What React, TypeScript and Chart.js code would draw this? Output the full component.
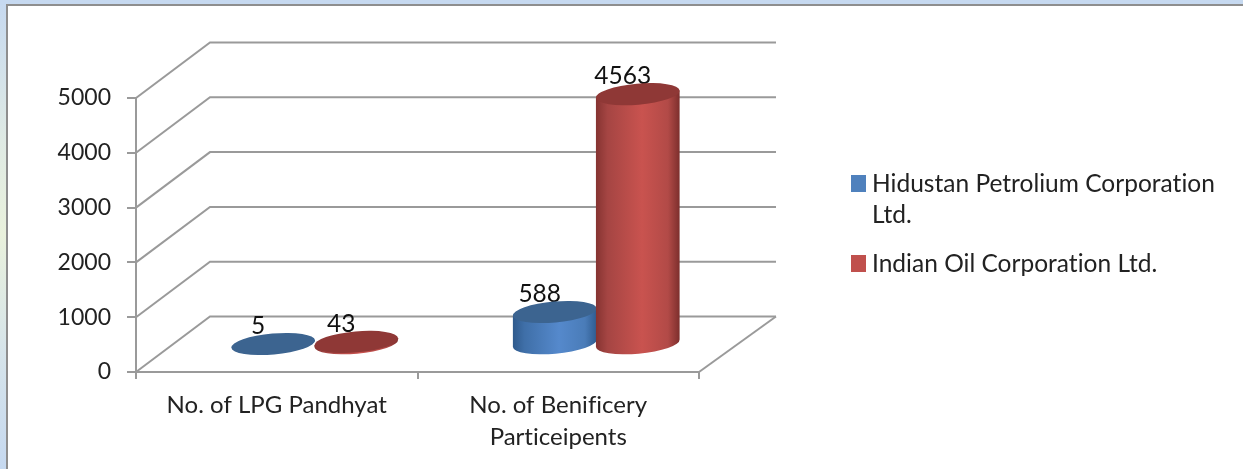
import React, { useEffect, useRef } from "react";
import { Chart, registerables } from "chart.js";

Chart.register(...registerables);

const categories: (string | string[])[] = ["No. of LPG Pandhyat", ["No. of Benificery", "Particeipents"]];
const hpclValues = [5, 588];
const iocValues = [43, 4563];
const hpclLabel = ["Hidustan Petrolium Corporation", "Ltd."];
const iocLabel = ["Indian Oil Corporation Ltd."];
const yTickStep = 1000;
const yMax = 5000;

const FONT = "Lato";
const TEXT = "#222222";
const AXIS = "#9a9a9a";
const DEPTH_X = 74;
const DEPTH_Y = 55.5;
const TILT = -0.088;
const RY = 10.5;

type Shade = { edgeL: string; dark: string; mid: string; soft: string; edgeR: string; top: string };
const shades: Shade[] = [
  { edgeL: "#2f5a8c", dark: "#3f6fa8", mid: "#5589cc", soft: "#4a7cb8", edgeR: "#2f5c90", top: "#3c6490" },
  { edgeL: "#853331", dark: "#a54543", mid: "#c9534f", soft: "#b24a47", edgeR: "#7c2e2c", top: "#8f3836" },
];

function drawCylinder(ctx: CanvasRenderingContext2D, cx: number, topY: number, baseY: number, rx: number, s: Shade) {
  const dx = rx * Math.cos(TILT);
  const dy = rx * Math.sin(TILT);
  const grad = ctx.createLinearGradient(cx - rx, 0, cx + rx, 0);
  grad.addColorStop(0, s.edgeL);
  grad.addColorStop(0.14, s.dark);
  grad.addColorStop(0.55, s.mid);
  grad.addColorStop(0.86, s.soft);
  grad.addColorStop(1, s.edgeR);
  ctx.beginPath();
  ctx.moveTo(cx + dx, topY + dy);
  ctx.lineTo(cx + dx, baseY + dy);
  ctx.ellipse(cx, baseY, rx, RY, TILT, 0, Math.PI);
  ctx.lineTo(cx - dx, topY - dy);
  ctx.closePath();
  ctx.fillStyle = grad;
  ctx.fill();
  ctx.beginPath();
  ctx.ellipse(cx, topY, rx, RY, TILT, 0, Math.PI * 2);
  ctx.fillStyle = s.top;
  ctx.fill();
}

const scene3d = {
  id: "scene3d",
  beforeDraw(chart: any) {
    const { ctx, width, height } = chart;
    (ctx as any).letterSpacing = "0.01px";
    ctx.save();
    const side = ctx.createLinearGradient(0, 0, 0, height);
    side.addColorStop(0, "#c6d9f0");
    side.addColorStop(0.3, "#dfeae4");
    side.addColorStop(0.5, "#e9f1dc");
    side.addColorStop(0.75, "#d6e4ea");
    side.addColorStop(1, "#c6d9f0");
    ctx.fillStyle = side;
    ctx.fillRect(0, 0, width, height);
    ctx.fillStyle = "#c6d9f0";
    ctx.fillRect(0, 0, width, 5);
    ctx.fillStyle = "#8e8e8e";
    ctx.fillRect(6, 4, width - 6, height - 4);
    ctx.fillStyle = "#ffffff";
    ctx.fillRect(8, 6, width - 8, height - 6);
    ctx.restore();
  },
  beforeDatasetsDraw(chart: any) {
    const { ctx, chartArea } = chart;
    const y = chart.scales.y;
    ctx.save();
    ctx.strokeStyle = AXIS;
    ctx.lineWidth = 2;
    y.ticks.forEach((t: any) => {
      const py = y.getPixelForValue(t.value);
      ctx.beginPath();
      ctx.moveTo(chartArea.left, py);
      ctx.lineTo(chartArea.left + DEPTH_X, py - DEPTH_Y);
      ctx.lineTo(chartArea.right + DEPTH_X + 3, py - DEPTH_Y);
      ctx.stroke();
    });
    const y0 = y.getPixelForValue(0);
    ctx.beginPath();
    ctx.moveTo(chartArea.right, y0);
    ctx.lineTo(chartArea.right + DEPTH_X + 3, y0 - DEPTH_Y);
    ctx.stroke();
    ctx.restore();
  },
  beforeDatasetDraw() {
    return false;
  },
  afterDatasetsDraw(chart: any) {
    const { ctx } = chart;
    const metas = chart.data.datasets.map((_: any, i: number) => chart.getDatasetMeta(i));
    ctx.save();
    ctx.font = `24.5px ${FONT}`;
    ctx.fillStyle = "#111111";
    ctx.textAlign = "center";
    ctx.textBaseline = "middle";
    metas.forEach((m: any, i: number) => {
      m.data.forEach((bar: any, j: number) => {
        const v = chart.data.datasets[i].data[j];
        ctx.fillText(String(v), bar.x + DEPTH_X / 2 - 14, bar.y - DEPTH_Y / 2 - 18);
      });
    });
    metas.forEach((m: any, i: number) => {
      m.data.forEach((bar: any) => {
        const cx = bar.x + DEPTH_X / 2 + 1;
        drawCylinder(ctx, cx, bar.y - DEPTH_Y / 2, bar.base - DEPTH_Y / 2, 42, shades[i]);
      });
    });
    ctx.restore();
  },
  afterDraw(chart: any) {
    const { ctx } = chart;
    ctx.save();
    ctx.font = `24.5px ${FONT}`;
    ctx.textAlign = "left";
    ctx.textBaseline = "middle";
    let cy = 184;
    chart.data.datasets.forEach((d: any) => {
      const lines: string[] = d.legendLines;
      ctx.fillStyle = d.backgroundColor;
      ctx.fillRect(851, cy - 9, 15, 17);
      ctx.fillStyle = TEXT;
      lines.forEach((line, k) => ctx.fillText(line, 872, cy + k * 31));
      cy += 31 * lines.length + 18;
    });
    ctx.restore();
  },
};

export default function App() {
  const ref = useRef<HTMLCanvasElement>(null);
  useEffect(() => {
    const chart = new Chart(ref.current!, {
      type: "bar",
      data: {
        labels: categories as any,
        datasets: [
          { label: hpclLabel.join(" "), legendLines: hpclLabel, data: hpclValues, backgroundColor: "#4f81bd" } as any,
          { label: iocLabel.join(" "), legendLines: iocLabel, data: iocValues, backgroundColor: "#c0504d" } as any,
        ],
      },
      options: {
        responsive: false,
        animation: false,
        layout: { padding: { top: 98, right: 544, bottom: 0, left: 0 } },
        plugins: { legend: { display: false }, title: { display: false }, tooltip: { enabled: false } },
        datasets: { bar: { categoryPercentage: 0.59, barPercentage: 1 } },
        scales: {
          x: {
            afterFit: (s: any) => { s.height = 97; },
            grid: { drawOnChartArea: false, tickLength: 7, color: AXIS, lineWidth: 2, offset: true },
            border: { color: AXIS, width: 2 },
            ticks: {
              color: TEXT, padding: 10, maxRotation: 0, minRotation: 0, autoSkip: false,
              font: { family: FONT, size: 24, lineHeight: 1.33 },
            },
          },
          y: {
            min: 0, max: yMax,
            afterFit: (s: any) => { s.width = 136; },
            grid: { drawOnChartArea: false, tickLength: 9, color: AXIS, lineWidth: 2 },
            border: { color: AXIS, width: 2 },
            ticks: {
              stepSize: yTickStep, color: TEXT, padding: 16,
              font: { family: FONT, size: 23 },
              callback: (v: any) => String(v),
            },
          },
        },
      } as any,
      plugins: [scene3d as any],
    });
    return () => chart.destroy();
  }, []);
  return (
    <div style={{ position: "fixed", left: 0, top: 0, width: 1243, height: 469 }}>
      <canvas ref={ref} width={1243} height={469} style={{ display: "block" }} />
    </div>
  );
}
